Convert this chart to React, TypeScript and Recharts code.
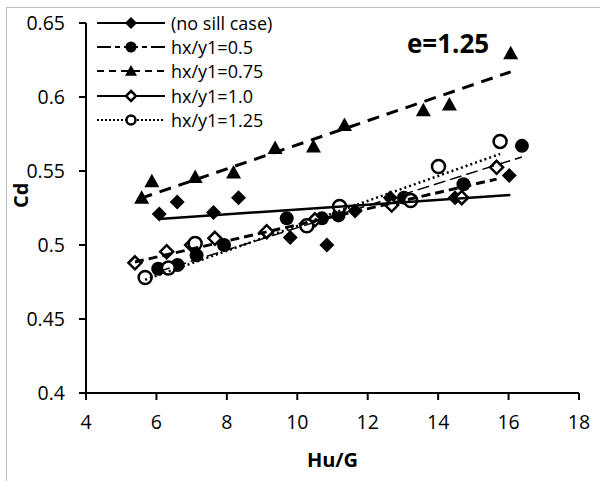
import React from 'react';
import { ScatterChart, Scatter, XAxis, YAxis, Legend } from 'recharts';

// Values
const xTicks = [4, 6, 8, 10, 12, 14, 16, 18];
const yTicks = [0.4, 0.45, 0.5, 0.55, 0.6, 0.65];

const noSillX = [6.08, 6.59, 7.62, 8.33, 9.8, 10.84, 11.64, 12.64, 14.48, 16.02];
const noSillY = [0.521, 0.529, 0.522, 0.532, 0.505, 0.5, 0.523, 0.532, 0.532, 0.547];

const hx05X = [6.05, 6.6, 7.14, 7.92, 9.7, 10.7, 11.17, 13.03, 14.72, 16.38];
const hx05Y = [0.484, 0.4865, 0.493, 0.5, 0.518, 0.518, 0.52, 0.532, 0.541, 0.567];

const hx075X = [5.58, 5.87, 7.1, 8.19, 9.37, 10.46, 11.34, 13.58, 14.32, 16.06];
const hx075Y = [0.532, 0.543, 0.546, 0.549, 0.5655, 0.5665, 0.581, 0.591, 0.595, 0.6295];

const hx10X = [5.39, 6.29, 7.0, 7.66, 9.13, 10.5, 12.68, 14.67, 15.66];
const hx10Y = [0.488, 0.4955, 0.5, 0.5045, 0.509, 0.517, 0.527, 0.532, 0.5525];

const hx125X = [5.68, 6.34, 7.1, 10.27, 11.2, 13.22, 14.01, 15.76];
const hx125Y = [0.478, 0.4845, 0.501, 0.513, 0.526, 0.53, 0.553, 0.57];

// linear trendlines (end points)
const noSillTrendX = [6.08, 16.05];
const noSillTrendY = [0.5176, 0.5338];
const hx05TrendX = [6.05, 16.38];
const hx05TrendY = [0.482, 0.5595];
const hx075TrendX = [5.55, 16.06];
const hx075TrendY = [0.5315, 0.617];
const hx10TrendX = [5.39, 15.66];
const hx10TrendY = [0.4885, 0.5445];
const hx125TrendX = [5.68, 15.76];
const hx125TrendY = [0.4765, 0.5615];

const seriesNames = ['(no sill case)', 'hx/y1=0.5', 'hx/y1=0.75', 'hx/y1=1.0', 'hx/y1=1.25'];

const pts = (xs: number[], ys: number[]) => xs.map((x, i) => ({ x, y: ys[i] }));

const FONT = '"Open Sans", sans-serif';

const FilledDiamond = ({ cx, cy, s = 7.5 }: any) => (
  <path d={`M${cx},${cy - s}L${cx + s},${cy}L${cx},${cy + s}L${cx - s},${cy}Z`} fill="#000" />
);
const FilledCircle = ({ cx, cy, r = 7 }: any) => <circle cx={cx} cy={cy} r={r} fill="#000" />;
const Triangle = ({ cx, cy, s = 7.5 }: any) => (
  <path d={`M${cx},${cy - s}L${cx + s},${cy + s * 0.8}L${cx - s},${cy + s * 0.8}Z`} fill="#000" />
);
const OpenDiamond = ({ cx, cy, s = 6.5 }: any) => (
  <path d={`M${cx},${cy - s}L${cx + s},${cy}L${cx},${cy + s}L${cx - s},${cy}Z`} fill="#fff" stroke="#000" strokeWidth={2.5} />
);
const OpenCircle = ({ cx, cy, r = 6.5 }: any) => (
  <circle cx={cx} cy={cy} r={r} fill="#fff" stroke="#000" strokeWidth={2.5} />
);
const NoShape = () => <g />;

const legendLines = ['', '14 4 5 4', '7 5', '', '2 2'];
const legendMarkers = [
  (cx: number, cy: number) => <FilledDiamond cx={cx} cy={cy} s={6} />,
  (cx: number, cy: number) => <FilledCircle cx={cx} cy={cy} r={5.5} />,
  (cx: number, cy: number) => <Triangle cx={cx} cy={cy} s={6} />,
  (cx: number, cy: number) => <OpenDiamond cx={cx} cy={cy} s={5} />,
  (cx: number, cy: number) => <OpenCircle cx={cx} cy={cy} r={4.5} />,
];

const LegendContent = () => (
  <div style={{ fontFamily: FONT, fontSize: 18, color: '#000', background: '#fff' }}>
    {seriesNames.map((name, i) => (
      <div key={name} style={{ display: 'flex', alignItems: 'center', height: 24.2 }}>
        <svg width={76} height={20}>
          <line x1={2} y1={10} x2={70} y2={10} stroke="#000" strokeWidth={2.2} strokeDasharray={legendLines[i] || undefined} />
          {legendMarkers[i](36, 10)}
        </svg>
        <span style={{ lineHeight: '20px' }}>{name}</span>
      </div>
    ))}
  </div>
);

export default function App() {
  return (
    <div style={{ position: 'fixed', left: 0, top: 0, width: 600, height: 481, background: '#fff' }}>
      <div style={{ position: 'absolute', left: 6, top: 7, width: 600, height: 480, borderLeft: '1px solid #bdbdbd', borderTop: '1px solid #bdbdbd' }} />
      <ScatterChart width={600} height={481} margin={{ top: 23, right: 21, bottom: 38, left: 26 }} style={{ fontFamily: FONT }}>
        <XAxis
          type="number"
          dataKey="x"
          domain={[4, 18]}
          ticks={xTicks}
          height={50}
          tickSize={7}
          tickMargin={15}
          axisLine={{ stroke: '#000', strokeWidth: 2 }}
          tickLine={{ stroke: '#000', strokeWidth: 2 }}
          tick={{ fill: '#000', fontSize: 19.5 }}
          label={{ value: 'Hu/G', position: 'bottom', offset: 10, fill: '#000', fontSize: 20, fontWeight: 700 }}
        />
        <YAxis
          type="number"
          dataKey="y"
          domain={[0.4, 0.65]}
          ticks={yTicks}
          width={60}
          tickSize={7}
          tickMargin={14}
          axisLine={{ stroke: '#000', strokeWidth: 2 }}
          tickLine={{ stroke: '#000', strokeWidth: 2 }}
          tick={{ fill: '#000', fontSize: 19.5 }}
          label={{ value: 'Cd', angle: -90, position: 'insideLeft', offset: -5, fill: '#000', fontSize: 20, fontWeight: 700 }}
        />
        <Legend
          layout="vertical"
          align="center"
          verticalAlign="middle"
          content={<LegendContent />}
          wrapperStyle={{ top: 11, left: 95, width: 200 }}
        />
        <Scatter data={pts(noSillX, noSillY)} fill="#000" shape={(p: any) => <FilledDiamond cx={p.cx} cy={p.cy} />} isAnimationActive={false} />
        <Scatter data={pts(hx05X, hx05Y)} fill="#000" shape={(p: any) => <FilledCircle cx={p.cx} cy={p.cy} />} isAnimationActive={false} />
        <Scatter data={pts(hx075X, hx075Y)} fill="#000" shape={(p: any) => <Triangle cx={p.cx} cy={p.cy} />} isAnimationActive={false} />
        <Scatter data={pts(hx10X, hx10Y)} fill="#000" shape={(p: any) => <OpenDiamond cx={p.cx} cy={p.cy} />} isAnimationActive={false} />
        <Scatter data={pts(hx125X, hx125Y)} fill="#000" shape={(p: any) => <OpenCircle cx={p.cx} cy={p.cy} />} isAnimationActive={false} />

        <Scatter data={pts(noSillTrendX, noSillTrendY)} fill="#000" shape={NoShape} line={{ stroke: '#000', strokeWidth: 2.5 }} isAnimationActive={false} />
        <Scatter data={pts(hx05TrendX, hx05TrendY)} fill="#000" shape={NoShape} line={{ stroke: '#000', strokeWidth: 1.5, strokeDasharray: '12 5' }} isAnimationActive={false} />
        <Scatter data={pts(hx075TrendX, hx075TrendY)} fill="#000" shape={NoShape} line={{ stroke: '#000', strokeWidth: 3, strokeDasharray: '12 8' }} isAnimationActive={false} />
        <Scatter data={pts(hx10TrendX, hx10TrendY)} fill="#000" shape={NoShape} line={{ stroke: '#000', strokeWidth: 3, strokeDasharray: '9 5' }} isAnimationActive={false} />
        <Scatter data={pts(hx125TrendX, hx125TrendY)} fill="#000" shape={NoShape} line={{ stroke: '#000', strokeWidth: 2.5, strokeDasharray: '2 3' }} isAnimationActive={false} />
      </ScatterChart>
      <div style={{ position: 'absolute', left: 407, top: 26, fontFamily: FONT, fontSize: 26, fontWeight: 700, color: '#000', lineHeight: '34px' }}>
        e=1.25
      </div>
    </div>
  );
}
